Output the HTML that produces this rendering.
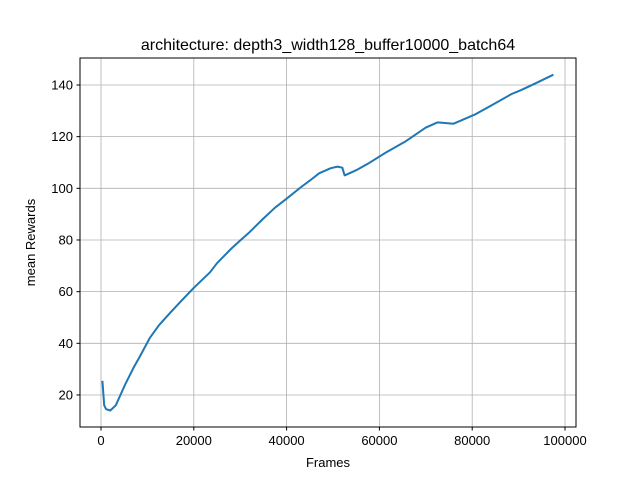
<!DOCTYPE html>
<html><head><meta charset="utf-8"><style>
body{margin:0;background:#fff;}
svg text{font-family:"Liberation Sans","DejaVu Sans",sans-serif;fill:#000;}
</style></head><body>
<svg id="chart" width="640" height="480" xmlns="http://www.w3.org/2000/svg">
<rect width="640" height="480" fill="#fff"/>
<text x="328" y="50" font-size="16" text-anchor="middle">architecture: depth3_width128_buffer10000_batch64</text>
<g id="grid"></g>
<g id="ticks"></g>
<path id="line" fill="none" stroke="#1f77b4" stroke-width="2" stroke-linejoin="round"/>
<rect x="80" y="58" width="496" height="369" fill="none" stroke="#000" stroke-width="1"/>
<text x="328" y="467" font-size="13" text-anchor="middle">Frames</text>
<text transform="translate(35,242.5) rotate(-90)" font-size="13" text-anchor="middle">mean Rewards</text>
</svg>
<script>
const frames=[300,700,1100,2000,3200,5200,7000,8400,10500,12500,15000,17500,20000,23500,25000,28000,30000,32000,35000,37500,40000,43000,45000,47000,49500,51000,52000,52500,55000,57500,61500,65500,70000,72500,76000,80500,84000,88500,90500,93500,97500];
const rewards=[25.5,16,14.5,14,16,24,30.5,35,42,47,52,56.8,61.5,67.5,71,76.5,79.8,83,88.3,92.5,96,100.3,103,105.8,107.8,108.4,108,105,107,109.5,114,118,123.5,125.5,125,128.5,132,136.5,138,140.5,144];
const xTicks=[0,20000,40000,60000,80000,100000];
const yTicks=[20,40,60,80,100,120,140];
const X0=80,X1=576,Y0=58,Y1=427;
const xMin=-4526,xMax=102370,yMin=7.6,yMax=150.45;
const sx=v=>X0+(v-xMin)/(xMax-xMin)*(X1-X0);
const sy=v=>Y1-(v-yMin)/(yMax-yMin)*(Y1-Y0);
const NS="http://www.w3.org/2000/svg";
const grid=document.getElementById('grid'),ticks=document.getElementById('ticks');
function mk(tag,attrs,parent){const e=document.createElementNS(NS,tag);for(const k in attrs)e.setAttribute(k,attrs[k]);parent.appendChild(e);return e;}
xTicks.forEach(t=>{const x=sx(t);
 const g=mk('line',{x1:x,x2:x,y1:Y0,y2:Y1,stroke:'#b0b0b0','stroke-width':0.8},grid);
 
 
 const tk=mk('line',{x1:x,x2:x,y1:Y1,y2:Y1+3.5,stroke:'#000'},ticks);
 
 
 const tx=mk('text',{x:x,y:Y1+18,'font-size':13,'text-anchor':'middle'},ticks);tx.textContent=t;
 
 
});
yTicks.forEach(t=>{const y=sy(t);
 const g=mk('line',{x1:X0,x2:X1,y1:y,y2:y,stroke:'#b0b0b0','stroke-width':0.8},grid);
 
 
 const tk=mk('line',{x1:X0-3.5,x2:X0,y1:y,y2:y,stroke:'#000'},ticks);
 
 
 const tx=mk('text',{x:X0-7,y:y+4.5,'font-size':13,'text-anchor':'end'},ticks);tx.textContent=t;
 
 
});
document.getElementById('line').setAttribute('d',frames.map((f,i)=>(i?'L':'M')+sx(f).toFixed(1)+','+sy(rewards[i]).toFixed(1)).join(''));
</script>
</body></html>
